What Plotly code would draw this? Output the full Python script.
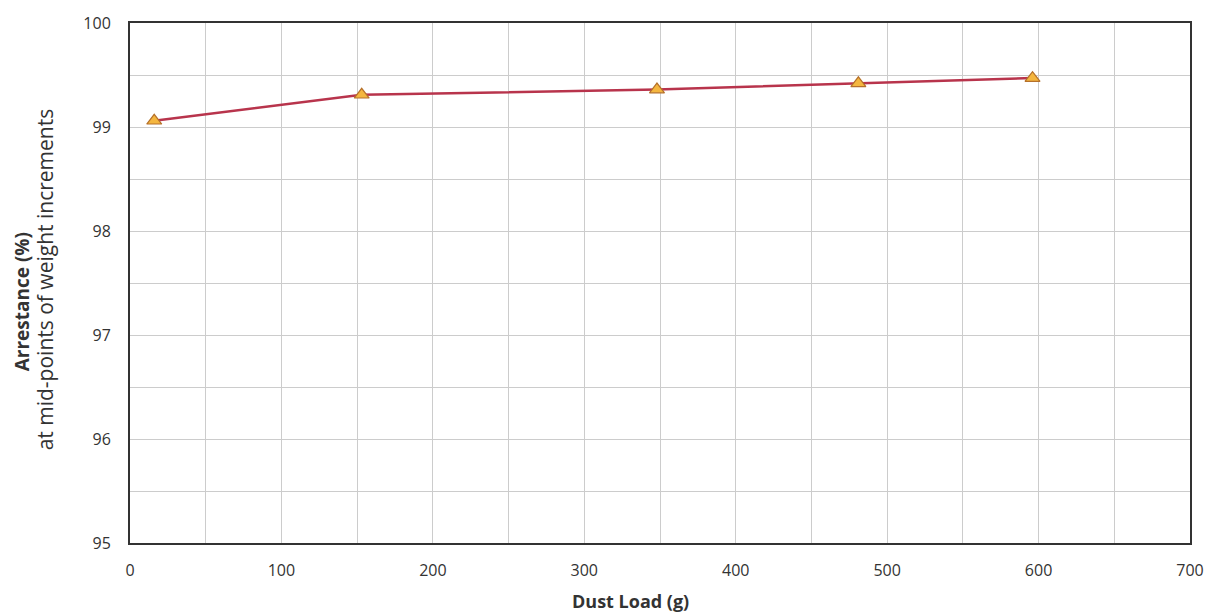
import plotly.graph_objects as go

dust_load = [16, 153, 348, 481, 596]
arrestance = [99.06, 99.31, 99.36, 99.42, 99.47]

fig = go.Figure()
fig.add_trace(go.Scatter(
    x=dust_load, y=arrestance, mode="lines+markers",
    line=dict(color="#b8344c", width=2.5),
    marker=dict(symbol="triangle-up", size=13, color="#f4b63f",
                line=dict(color="#b5702a", width=1.2)),
    showlegend=False,
))

axis_common = dict(
    showline=True, linecolor="#333333", linewidth=2, mirror=True,
    showgrid=True, gridcolor="#cccccc", gridwidth=1,
    zeroline=False, ticks="",
    tickfont=dict(family="Open Sans", size=16, color="#333333"),
)
fig.update_layout(
    width=1216, height=616,
    margin=dict(l=130, r=23, t=18, b=73),
    paper_bgcolor="white", plot_bgcolor="white",
    xaxis=dict(range=[0, 700], dtick=100, tick0=0, ticklabelstandoff=12,
               minor=dict(dtick=50, showgrid=True, gridcolor="#cccccc"),
               **axis_common),
    yaxis=dict(range=[95, 100], dtick=1, tick0=95, ticklabelstandoff=14,
               minor=dict(dtick=0.5, showgrid=True, gridcolor="#cccccc"),
               **axis_common),
)
fig.add_annotation(text="<b>Dust Load (g)</b>", xref="paper", yref="paper",
                   x=0.472, y=0, yshift=-58, xanchor="center", yanchor="middle",
                   showarrow=False,
                   font=dict(family="Open Sans", size=18, color="#333333"))
fig.add_annotation(text="<b>Arrestance (%)</b>", xref="paper", yref="paper",
                   x=0, xshift=-108, y=0.463, xanchor="center", yanchor="middle",
                   textangle=-90, showarrow=False,
                   font=dict(family="Open Sans", size=19, color="#333333"))
fig.add_annotation(text="at mid-points of weight increments", xref="paper", yref="paper",
                   x=0, xshift=-85, y=0.507, xanchor="center", yanchor="middle",
                   textangle=-90, showarrow=False,
                   font=dict(family="Open Sans", size=21, color="#333333"))
fig.write_html("out.html")
